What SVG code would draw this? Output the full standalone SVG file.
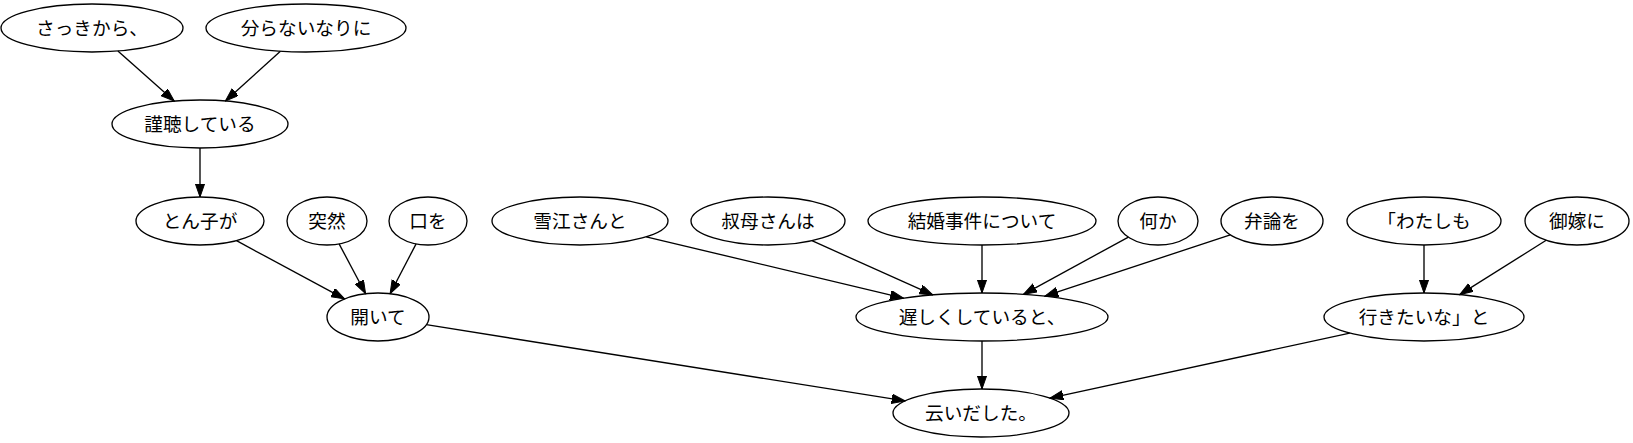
<svg xmlns="http://www.w3.org/2000/svg" width="1633" height="443" viewBox="0 0 1633 443">
<style>
.n ellipse{fill:none;stroke:#000;stroke-width:1.33}
.n text{font-family:"Noto Sans CJK JP","Noto Sans CJK SC",sans-serif;font-size:18.67px;text-anchor:middle;fill:#000}
#edges line{stroke:#000;stroke-width:1.33;marker-end:url(#ah)}
</style>
<defs>
<marker id="ah" markerUnits="userSpaceOnUse" markerWidth="14" markerHeight="10" refX="13.3" refY="4.67" orient="auto">
<path d="M0,0 L13.3,4.67 L0,9.33 Z" fill="#000" stroke="#000" stroke-width="1"/>
</marker>
</defs>
<rect width="1633" height="443" fill="#fff"/>
<g id="edges">
<line x1="117.9" y1="51" x2="174.2" y2="101"/>
<line x1="280.4" y1="51.2" x2="225.4" y2="101"/>
<line x1="200" y1="148" x2="200" y2="197"/>
<line x1="236.5" y1="240.7" x2="344.5" y2="298.9"/>
<line x1="339.1" y1="243.9" x2="365.6" y2="293.7"/>
<line x1="416.1" y1="243.9" x2="390.1" y2="293.7"/>
<line x1="426.3" y1="324.7" x2="905" y2="400.9"/>
<line x1="646.2" y1="236.8" x2="903.5" y2="298.2"/>
<line x1="811.9" y1="240.7" x2="932.8" y2="294.9"/>
<line x1="982" y1="245" x2="982" y2="293"/>
<line x1="1128.4" y1="237.1" x2="1023.5" y2="294.3"/>
<line x1="1230.3" y1="234.8" x2="1044.8" y2="296.2"/>
<line x1="982" y1="341" x2="982" y2="389"/>
<line x1="1424" y1="245" x2="1424" y2="293"/>
<line x1="1546.2" y1="240.3" x2="1459.7" y2="294.6"/>
<line x1="1349.8" y1="333.1" x2="1049.9" y2="398.1"/>
</g>
<g id="n1" class="n"><ellipse cx="92" cy="28" rx="91" ry="24"/><text x="92" y="34.5">さっきから、</text></g>
<g id="n2" class="n"><ellipse cx="306" cy="28" rx="100" ry="24"/><text x="306" y="34.5">分らないなりに</text></g>
<g id="n3" class="n"><ellipse cx="200" cy="124" rx="88" ry="24"/><text x="200" y="130.5">謹聴している</text></g>
<g id="n4" class="n"><ellipse cx="200" cy="221" rx="64" ry="24"/><text x="200" y="227.5">とん子が</text></g>
<g id="n5" class="n"><ellipse cx="327" cy="221" rx="40" ry="24"/><text x="327" y="227.5">突然</text></g>
<g id="n6" class="n"><ellipse cx="428" cy="221" rx="39" ry="24"/><text x="428" y="227.5">口を</text></g>
<g id="n7" class="n"><ellipse cx="378" cy="317" rx="51" ry="24"/><text x="378" y="323.5">開いて</text></g>
<g id="n8" class="n"><ellipse cx="580" cy="221" rx="88" ry="24"/><text x="580" y="227.5">雪江さんと</text></g>
<g id="n9" class="n"><ellipse cx="768" cy="221" rx="77" ry="24"/><text x="768" y="227.5">叔母さんは</text></g>
<g id="n10" class="n"><ellipse cx="982" cy="221" rx="114" ry="24"/><text x="982" y="227.5">結婚事件について</text></g>
<g id="n11" class="n"><ellipse cx="1158" cy="221" rx="40" ry="24"/><text x="1158" y="227.5">何か</text></g>
<g id="n12" class="n"><ellipse cx="1272" cy="221" rx="51" ry="24"/><text x="1272" y="227.5">弁論を</text></g>
<g id="n13" class="n"><ellipse cx="982" cy="317" rx="126" ry="24"/><text x="982" y="323.5">遅しくしていると、</text></g>
<g id="n14" class="n"><ellipse cx="1424" cy="221" rx="77" ry="24"/><text x="1424" y="227.5">「わたしも</text></g>
<g id="n15" class="n"><ellipse cx="1577" cy="221" rx="52" ry="24"/><text x="1577" y="227.5">御嫁に</text></g>
<g id="n16" class="n"><ellipse cx="1424" cy="317" rx="100" ry="24"/><text x="1424" y="323.5">行きたいな」と</text></g>
<g id="n17" class="n"><ellipse cx="981" cy="413" rx="88" ry="24"/><text x="981" y="419.5">云いだした。</text></g>
</svg>
